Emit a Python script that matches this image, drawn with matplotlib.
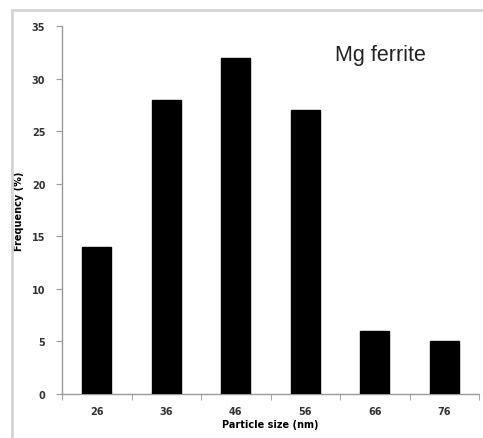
import matplotlib
matplotlib.use("Agg")
import matplotlib.pyplot as plt
from matplotlib.patches import Rectangle
import numpy as np

categories = ["26", "36", "46", "56", "66", "76"]
frequency = [14, 28, 32, 27, 6, 5]
y_ticks = [0, 5, 10, 15, 20, 25, 30, 35]

W, H = 483, 439
fig = plt.figure(figsize=(W/100, H/100), dpi=100)
fig.patches.append(Rectangle((12/W, -0.05), 1.1, 1 - 11/H + 0.05, transform=fig.transFigure,
                             fill=False, edgecolor="#d4d4d4", lw=2.0, zorder=0))
ax = fig.add_axes([62/W, 1 - 395/H, (479-62)/W, (395-27)/H])
x = np.arange(len(categories))
ax.bar(x, frequency, width=0.42, color="black", edgecolor="black", zorder=3)
ax.set_xlim(-0.5, len(categories) - 0.5)
ax.set_ylim(0, 35)
ax.set_yticks(y_ticks)
ax.set_yticklabels([str(v) for v in y_ticks], fontsize=7, color="#333333", fontweight="semibold")
ax.set_xticks(x)
ax.set_xticklabels(categories, fontsize=7, color="#333333", fontweight="semibold")
ax.set_xticks(np.arange(-0.5, len(categories)), minor=True)
ax.tick_params(axis="x", which="major", length=0, pad=9)
ax.tick_params(axis="x", which="minor", length=4, color="#999999", direction="out")
ax.tick_params(axis="y", length=4, color="#999999", pad=8)
for s in ["top", "right"]:
    ax.spines[s].set_visible(False)
for s in ["left", "bottom"]:
    ax.spines[s].set_color("#999999")
    ax.spines[s].set_linewidth(1.0)
ax.set_xlabel("Particle size (nm)", fontsize=7, fontweight="bold", labelpad=2)
ax.set_ylabel("Frequency (%)", fontsize=7, fontweight="bold", labelpad=6)
fig.text(335/W, 1 - 55/H, "Mg ferrite", fontsize=15.5, family="Liberation Sans",
         color="#222222", va="center", ha="left")
fig.savefig("out.png", dpi=100)
